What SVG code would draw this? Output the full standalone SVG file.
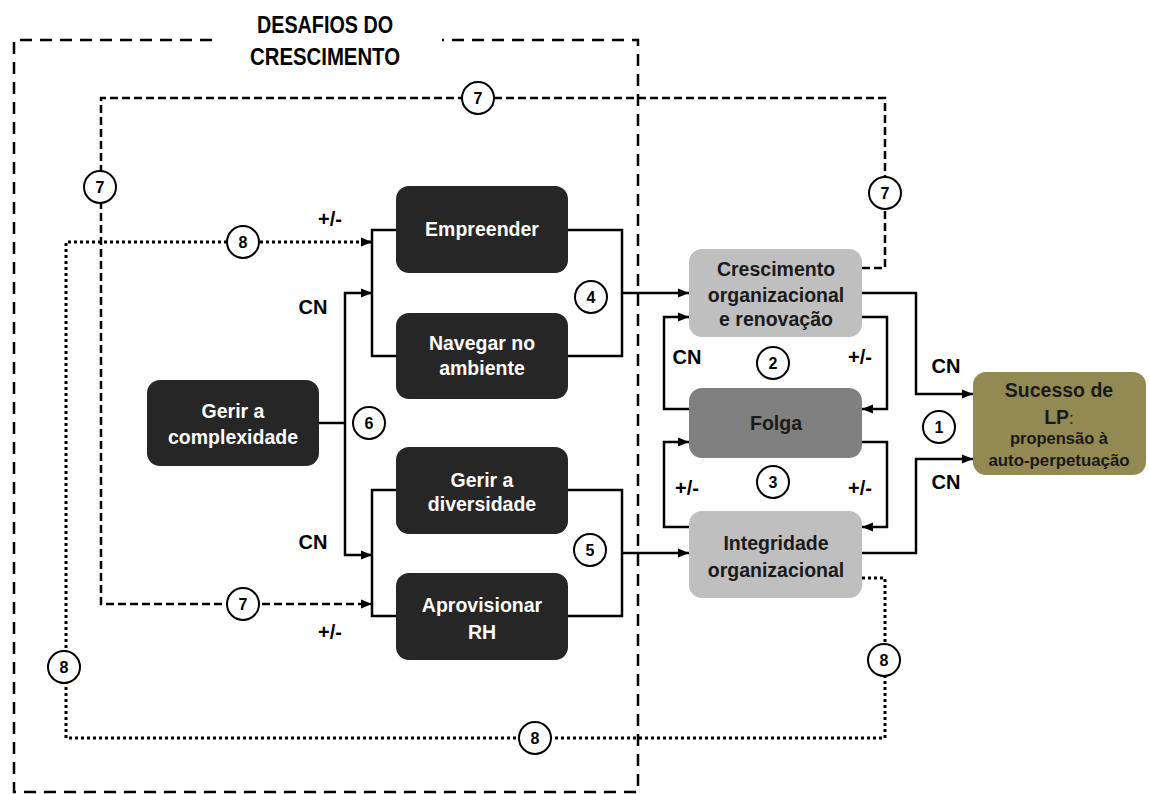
<svg xmlns="http://www.w3.org/2000/svg" width="1149" height="794" viewBox="0 0 1149 794">
<style>
  .dk { fill: #262626; }
  .lt { fill: #bfbfbf; }
  .md { fill: #808080; }
  .ol { fill: #938953; }
  .nt { font-family: "Liberation Sans", Arial, sans-serif; font-weight: bold; font-size: 19.5px; text-anchor: middle; }
  .w { fill: #ffffff; }
  .b { fill: #1a1a1a; }
  .sm { font-size: 16.5px; }
  .lbl { font-family: "Liberation Sans", Arial, sans-serif; font-weight: bold; font-size: 20px; text-anchor: middle; fill: #000; }
  .num { font-family: "Liberation Sans", Arial, sans-serif; font-weight: bold; font-size: 16px; text-anchor: middle; fill: #000; }
  .ttl { font-family: "Liberation Sans", Arial, sans-serif; font-weight: bold; font-size: 23px; text-anchor: middle; fill: #000; }
  .solid { fill: none; stroke: #000; stroke-width: 2.5; }
  .dash { fill: none; stroke: #000; stroke-width: 2.5; stroke-dasharray: 8 4; }
  .dot { fill: none; stroke: #000; stroke-width: 3; stroke-dasharray: 3 3; }
  .border { fill: none; stroke: #000; stroke-width: 2.5; stroke-dasharray: 12 8; }
  .circ { fill: #fff; stroke: #000; stroke-width: 2; }
</style>
<defs>
  <marker id="ah" markerUnits="userSpaceOnUse" markerWidth="12" markerHeight="10" refX="11" refY="5" orient="auto">
    <path d="M0,0.5 L11,5 L0,9.5 z" fill="#000"/>
  </marker>
</defs>

<!-- outer border -->
<g id="border">
  <path class="border" d="M 212 40 H 14 V 792 H 638 V 40 H 442"/>
  <text class="ttl" x="325" y="33" textLength="136" lengthAdjust="spacingAndGlyphs">DESAFIOS DO</text>
  <text class="ttl" x="325" y="65" textLength="150" lengthAdjust="spacingAndGlyphs">CRESCIMENTO</text>
</g>

<g id="connectors">
  <!-- loop 7 dashed -->
  <path class="dash" d="M 862 268 H 885 V 98 H 101 V 604 H 372" marker-end="url(#ah)"/>
  <!-- loop 8 dotted -->
  <path class="dot" d="M 862 578 H 885 V 738 H 66 V 242 H 372" marker-end="url(#ah)"/>
  <!-- brackets -->
  <path class="solid" d="M 397 230 H 372 V 356 H 397"/>
  <path class="solid" d="M 567 230 H 622 V 356 H 567"/>
  <path class="solid" d="M 622 293 H 689" marker-end="url(#ah)"/>
  <path class="solid" d="M 319 423 H 345"/>
  <path class="solid" d="M 345 423 V 293 H 372" marker-end="url(#ah)"/>
  <path class="solid" d="M 345 423 V 555 H 372" marker-end="url(#ah)"/>
  <path class="solid" d="M 397 490 H 372 V 616 H 397"/>
  <path class="solid" d="M 567 490 H 622 V 616 H 567"/>
  <path class="solid" d="M 622 553 H 689" marker-end="url(#ah)"/>
  <!-- right side loops -->
  <path class="solid" d="M 689 409 H 664 V 317 H 689" marker-end="url(#ah)"/>
  <path class="solid" d="M 862 317 H 887 V 409 H 862" marker-end="url(#ah)"/>
  <path class="solid" d="M 689 527 H 664 V 442 H 689" marker-end="url(#ah)"/>
  <path class="solid" d="M 862 442 H 887 V 527 H 862" marker-end="url(#ah)"/>
  <path class="solid" d="M 862 293 H 916 V 394 H 973" marker-end="url(#ah)"/>
  <path class="solid" d="M 862 553 H 916 V 459 H 973" marker-end="url(#ah)"/>
</g>

<g id="labels">
  <text class="lbl" x="330" y="226">+/-</text>
  <text class="lbl" x="313" y="314">CN</text>
  <text class="lbl" x="313" y="549">CN</text>
  <text class="lbl" x="330" y="639">+/-</text>
  <text class="lbl" x="687" y="364">CN</text>
  <text class="lbl" x="860" y="364">+/-</text>
  <text class="lbl" x="687" y="495">+/-</text>
  <text class="lbl" x="860" y="495">+/-</text>
  <text class="lbl" x="946" y="373">CN</text>
  <text class="lbl" x="946" y="489">CN</text>
</g>

<g id="markers-num">
  <g><circle class="circ" cx="478" cy="98" r="16"/><text class="num" x="478" y="104">7</text></g>
  <g><circle class="circ" cx="885" cy="193" r="16"/><text class="num" x="885" y="199">7</text></g>
  <g><circle class="circ" cx="100" cy="187" r="16"/><text class="num" x="100" y="193">7</text></g>
  <g><circle class="circ" cx="243" cy="604" r="16"/><text class="num" x="243" y="610">7</text></g>
  <g><circle class="circ" cx="243" cy="242" r="16"/><text class="num" x="243" y="248">8</text></g>
  <g><circle class="circ" cx="64" cy="667" r="16"/><text class="num" x="64" y="673">8</text></g>
  <g><circle class="circ" cx="884" cy="660" r="16"/><text class="num" x="884" y="666">8</text></g>
  <g><circle class="circ" cx="535" cy="738" r="16"/><text class="num" x="535" y="744">8</text></g>
  <g><circle class="circ" cx="369" cy="423" r="16"/><text class="num" x="369" y="429">6</text></g>
  <g><circle class="circ" cx="591" cy="297" r="16"/><text class="num" x="591" y="303">4</text></g>
  <g><circle class="circ" cx="590" cy="550" r="16"/><text class="num" x="590" y="556">5</text></g>
  <g><circle class="circ" cx="773" cy="363" r="16"/><text class="num" x="773" y="369">2</text></g>
  <g><circle class="circ" cx="773" cy="482" r="16"/><text class="num" x="773" y="488">3</text></g>
  <g><circle class="circ" cx="939" cy="427" r="16"/><text class="num" x="939" y="433">1</text></g>
</g>

<g id="empreender">
  <rect class="dk" x="396" y="186" width="172" height="87" rx="13"/>
  <text class="nt w" x="482" y="236">Empreender</text>
</g>
<g id="navegar">
  <rect class="dk" x="396" y="313" width="172" height="86" rx="13"/>
  <text class="nt w" x="482" y="350">Navegar no</text>
  <text class="nt w" x="482" y="375">ambiente</text>
</g>
<g id="complexidade">
  <rect class="dk" x="147" y="380" width="172" height="86" rx="13"/>
  <text class="nt w" x="233" y="418">Gerir a</text>
  <text class="nt w" x="233" y="444">complexidade</text>
</g>
<g id="diversidade">
  <rect class="dk" x="396" y="447" width="172" height="87" rx="13"/>
  <text class="nt w" x="482" y="487">Gerir a</text>
  <text class="nt w" x="482" y="511">diversidade</text>
</g>
<g id="aprovisionar">
  <rect class="dk" x="396" y="573" width="172" height="87" rx="13"/>
  <text class="nt w" x="482" y="612">Aprovisionar</text>
  <text class="nt w" x="482" y="639">RH</text>
</g>
<g id="crescimento">
  <rect class="lt" x="689" y="249" width="173" height="88" rx="13"/>
  <text class="nt b" x="776" y="276">Crescimento</text>
  <text class="nt b" x="776" y="302">organizacional</text>
  <text class="nt b" x="776" y="326">e renovação</text>
</g>
<g id="folga">
  <rect class="md" x="689" y="388" width="173" height="70" rx="13"/>
  <text class="nt b" x="776" y="430">Folga</text>
</g>
<g id="integridade">
  <rect class="lt" x="689" y="511" width="173" height="87" rx="13"/>
  <text class="nt b" x="776" y="550">Integridade</text>
  <text class="nt b" x="776" y="577">organizacional</text>
</g>
<g id="sucesso">
  <rect class="ol" x="973" y="372" width="173" height="103" rx="13"/>
  <text class="nt b" x="1059" y="397">Sucesso de</text>
  <text class="nt b" x="1059" y="424">LP<tspan font-weight="normal" font-size="17">:</tspan></text>
  <text class="nt b sm" x="1059" y="444" textLength="98" lengthAdjust="spacingAndGlyphs">propensão à</text>
  <text class="nt b sm" x="1059" y="466" textLength="141" lengthAdjust="spacingAndGlyphs">auto-perpetuação</text>
</g>
</svg>
